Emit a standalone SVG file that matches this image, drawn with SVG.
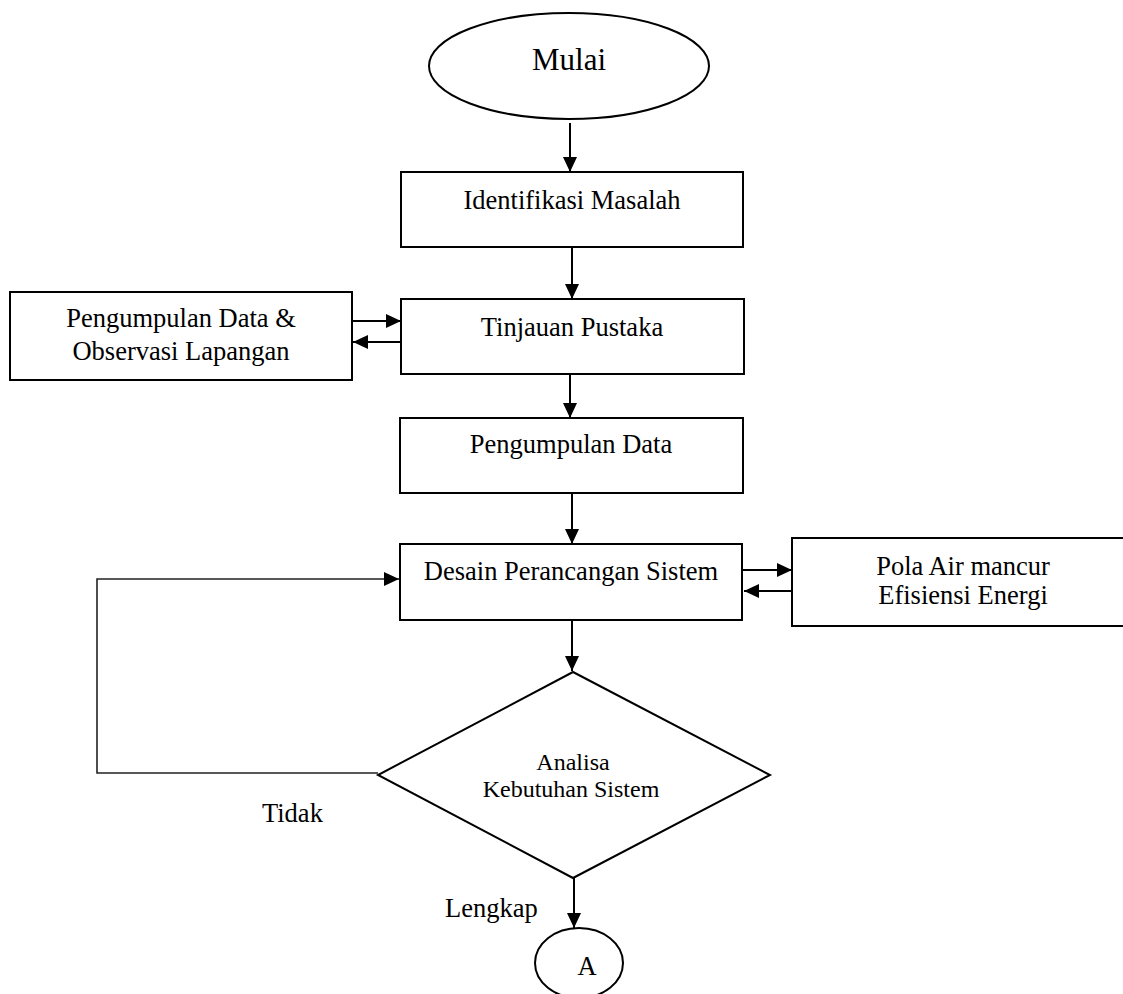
<svg xmlns="http://www.w3.org/2000/svg" width="1123" height="994" viewBox="0 0 1123 994">
<defs>
<style>
.box{fill:#fff;stroke:#000;stroke-width:2}
.t{font-family:"Liberation Serif","Times New Roman",serif;font-size:26.5px;fill:#000;text-anchor:middle}
.tl{font-family:"Liberation Serif","Times New Roman",serif;font-size:26.5px;fill:#000}
.c{fill:none;stroke:#000;stroke-width:2}
.loop{fill:none;stroke:#222;stroke-width:1.6}
</style>
<marker id="ah" viewBox="0 0 15 14" refX="15" refY="7" markerWidth="15" markerHeight="14" markerUnits="userSpaceOnUse" orient="auto">
<path d="M0,0 L15,7 L0,14 Z" fill="#000"/>
</marker>
</defs>
<rect width="1123" height="994" fill="#fff"/>

<g id="connectors">
<line class="c" x1="570" y1="123" x2="570" y2="172" marker-end="url(#ah)"/>
<line class="c" x1="572" y1="247" x2="572" y2="299" marker-end="url(#ah)"/>
<line class="c" x1="352" y1="321" x2="401" y2="321" marker-end="url(#ah)"/>
<line class="c" x1="401" y1="342" x2="353" y2="342" marker-end="url(#ah)"/>
<line class="c" x1="570" y1="374" x2="570" y2="418" marker-end="url(#ah)"/>
<line class="c" x1="572" y1="493" x2="572" y2="544" marker-end="url(#ah)"/>
<line class="c" x1="743" y1="570" x2="792" y2="570" marker-end="url(#ah)"/>
<line class="c" x1="792" y1="591" x2="744" y2="591" marker-end="url(#ah)"/>
<line class="c" x1="572" y1="620" x2="572" y2="671" marker-end="url(#ah)"/>
<polyline class="loop" points="378,773 97,773 97,579 399,579" marker-end="url(#ah)"/>
<line class="c" x1="574" y1="878" x2="574" y2="928" marker-end="url(#ah)"/>
</g>

<g id="mulai">
<ellipse class="box" cx="569" cy="66" rx="140" ry="53"/>
<text class="t" x="569" y="70" style="font-size:31px">Mulai</text>
</g>

<g id="identifikasi">
<rect class="box" x="401" y="172" width="342" height="75"/>
<text class="t" x="572" y="209">Identifikasi Masalah</text>
</g>

<g id="observasi">
<rect class="box" x="10" y="292" width="342" height="88"/>
<text class="t" x="181" y="327">Pengumpulan Data &amp;</text>
<text class="t" x="181" y="360">Observasi Lapangan</text>
</g>

<g id="tinjauan">
<rect class="box" x="401" y="299" width="343" height="75"/>
<text class="t" x="572" y="336">Tinjauan Pustaka</text>
</g>

<g id="pengumpulan">
<rect class="box" x="400" y="418" width="343" height="75"/>
<text class="t" x="571" y="453">Pengumpulan Data</text>
</g>

<g id="desain">
<rect class="box" x="400" y="544" width="342" height="76"/>
<text class="t" x="571" y="580">Desain Perancangan Sistem</text>
</g>

<g id="pola">
<rect class="box" x="792" y="538" width="340" height="88"/>
<text class="t" x="963" y="575">Pola Air mancur</text>
<text class="t" x="963" y="604">Efisiensi Energi</text>
</g>

<g id="analisa">
<polygon class="box" points="573,672 770,775 573,878 378,775"/>
<text class="t" x="573" y="770" style="font-size:24px">Analisa</text>
<text class="t" x="571" y="797" style="font-size:24px">Kebutuhan Sistem</text>
</g>

<g id="labels">
<text class="tl" x="262" y="822">Tidak</text>
<text class="tl" x="445" y="917">Lengkap</text>
</g>

<g id="connector-a">
<ellipse class="box" cx="579" cy="963" rx="44" ry="35"/>
<text class="t" x="587" y="975">A</text>
</g>
</svg>
